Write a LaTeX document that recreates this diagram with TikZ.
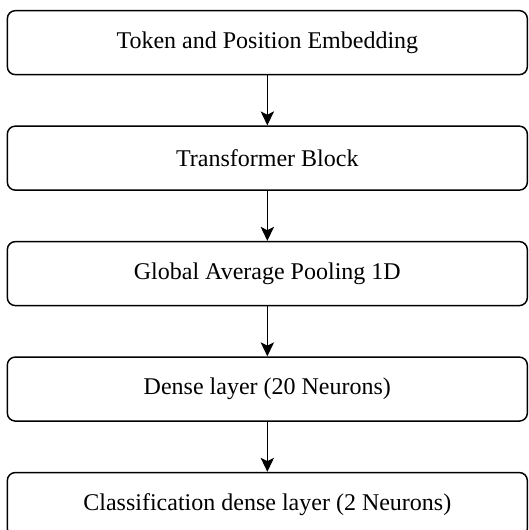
\documentclass[tikz,border=0pt]{standalone}
\usepackage{fontspec}
\setmainfont{Liberation Serif}
\usetikzlibrary{arrows.meta,positioning}

\begin{document}
\begin{tikzpicture}[
    layerbox/.style={draw,line width=1.1pt,rounded corners=6pt,
      minimum width=390pt,minimum height=48pt,
      font=\fontsize{18}{21}\selectfont},
    flow/.style={-{Stealth[length=10.5pt,width=10pt,inset=2.5pt]},line width=1.1pt},
    node distance=37.5pt
  ]

  % ---- Canvas -------------------------------------------------
  \useasboundingbox (0,0) rectangle (396pt,-397.5pt);

  % ---- Layers (top to bottom) ---------------------------------
  \node[layerbox] (embed) at (200.5pt,-32pt) {Token and Position Embedding};
  \node[layerbox,below=of embed] (transformer) {Transformer Block};
  \node[layerbox,below=of transformer] (pooling) {Global Average Pooling 1D};
  \node[layerbox,below=of pooling] (dense) {Dense layer (20 Neurons)};
  \node[layerbox,below=of dense] (classify)
    {Classification dense layer (2 Neurons)};

  % ---- Connectors ---------------------------------------------
  \draw[flow] (embed) -- (transformer);
  \draw[flow] (transformer) -- (pooling);
  \draw[flow] (pooling) -- (dense);
  \draw[flow] (dense) -- (classify);

\end{tikzpicture}
\end{document}
